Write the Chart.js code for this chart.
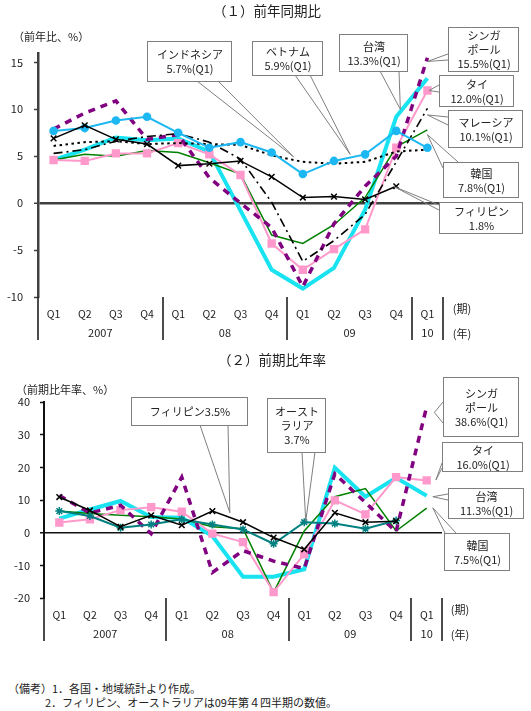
<!DOCTYPE html>
<html lang="ja">
<head>
<meta charset="utf-8">
<script src="https://cdn.jsdelivr.net/npm/chart.js@4.4.1/dist/chart.umd.min.js"></script>
<style>
  html, body { margin: 0; padding: 0; background: #fff; }
  #wrap { position: relative; width: 531px; height: 711px; font-family: "Noto Sans CJK JP", sans-serif; }
  #c1 { position: absolute; left: 0; top: 0; }
  #c2 { position: absolute; left: 0; top: 345px; }
  .note { position: absolute; font-size: 11px; color: #222; white-space: nowrap; line-height: 14px; }
</style>
</head>
<body>
<div id="wrap">
  <canvas id="c1" width="531" height="345"></canvas>
  <canvas id="c2" width="531" height="300"></canvas>
  <div class="note" style="left:8px; top:681px;">（備考）1．各国・地域統計より作成。</div>
  <div class="note" style="left:45px; top:695px;">2．フィリピン、オーストラリアは09年第４四半期の数値。</div>
</div>
<script>
// 横軸
const quarters = ['Q1', 'Q2', 'Q3', 'Q4', 'Q1', 'Q2', 'Q3', 'Q4', 'Q1', 'Q2', 'Q3', 'Q4', 'Q1'];
const yearLabels = ['2007', '08', '09', '10'];
const yearSpans = [4, 4, 4, 1];

// (1) 前年同期比
const philippinesYoY = [6.9, 8.3, 6.8, 6.3, 4.0, 4.2, 4.5, 2.8, 0.6, 0.7, 0.4, 1.8, null];
const vietnamYoY     = [7.7, 8.0, 8.8, 9.2, 7.5, 5.9, 6.5, 5.4, 3.1, 4.5, 5.2, 7.7, 5.9];
const indonesiaYoY   = [6.1, 6.5, 6.6, 6.3, 6.4, 6.3, 6.2, 5.1, 4.4, 4.2, 4.4, 5.5, 5.7];
const malaysiaYoY    = [5.3, 5.7, 6.6, 7.1, 7.4, 6.5, 4.7, 0.1, -6.2, -4.0, -1.2, 4.4, 10.1];
const singaporeYoY   = [7.9, 9.6, 10.9, 6.8, 7.3, 2.7, 0.0, -2.6, -8.9, -2.2, 1.8, 5.0, 15.5];
const thaiYoY        = [4.6, 4.5, 5.3, 5.3, 6.4, 5.2, 3.0, -4.3, -7.1, -4.9, -2.8, 5.9, 12.0];
const koreaYoY       = [4.6, 5.2, 5.0, 5.6, 5.4, 4.3, 3.1, -3.4, -4.3, -2.3, 0.6, 6.0, 7.8];
const taiwanYoY      = [4.6, 5.7, 7.0, 6.7, 6.9, 5.5, -0.8, -7.1, -9.1, -6.9, -0.7, 9.2, 13.3];

// (2) 前期比年率
const philippinesSaar = [10.9, 6.8, 1.8, 5.3, 2.3, 6.6, 3.2, -1.5, -5.1, 6.1, 3.2, 3.5, null];
const australiaSaar   = [6.6, 5.1, 1.5, 2.5, 4.1, 2.5, 1.0, -3.4, 3.2, 2.8, 1.2, 3.7, null];
const singaporeSaar   = [11.4, 6.0, 8.4, -0.3, 17.0, -12.2, -5.5, -8.7, -11.0, 18.0, 9.2, 0.3, 38.6];
const thaiSaar        = [3.1, 4.1, 6.9, 7.8, 6.4, -0.3, -2.9, -18.2, -6.6, 9.9, 5.6, 17.0, 16.0];
const koreaSaar       = [6.6, 5.9, 5.3, 4.9, 4.2, 1.8, 1.2, -18.3, 0.5, 11.0, 13.5, 0.5, 7.5];
const taiwanSaar      = [4.3, 7.1, 9.7, 4.8, 4.6, -1.0, -13.5, -13.5, -11.2, 19.9, 11.0, 16.8, 11.3];

const FONT = '"Noto Sans CJK JP", sans-serif';
Chart.defaults.font.family = FONT;
Chart.defaults.font.size = 11;
Chart.defaults.color = '#222';

// 吹き出し（位置はキャンバス座標、先端はデータ座標）
const calloutsYoY = [
  { text: ['インドネシア', '5.7%(Q1)'], box: [147, 41, 84, 40], base: [[197, 81], [218, 81]], tip: [7.7, 4.95] },
  { text: ['ベトナム', '5.9%(Q1)'], box: [252, 41, 70, 34], base: [[295, 75], [310, 75]], tip: [9.52, 5.2] },
  { text: ['台湾', '13.3%(Q1)'], box: [339, 34, 68, 37], base: [[380, 71], [399, 71]], tip: [11.13, 10.0] },
  { text: ['シンガ', 'ポール', '15.5%(Q1)'], box: [448, 27, 70, 44], base: [[448, 54], [448, 60]], tip: [12, 15.1] },
  { text: ['タイ', '12.0%(Q1)'], box: [439, 75, 74, 31], base: [[439, 85], [439, 92]], tip: [12.05, 12.0] },
  { text: ['マレーシア', '10.1%(Q1)'], box: [448, 110, 74, 37], base: [[448, 117], [448, 125]], tip: [12, 9.4] },
  { text: ['韓国', '7.8%(Q1)'], box: [443, 162, 75, 35], base: [[443, 168], [458, 162]], tip: [12, 7.3] },
  { text: ['フィリピン', '1.8%'], box: [439, 202, 83, 31], base: [[439, 205], [439, 210]], tip: [10.9, 1.8] },
];
const calloutsSaar = [
  { text: ['フィリピン3.5%'], box: [131, 52, 116, 28], base: [[200, 80], [228, 80]], tip: [5.57, 6.1] },
  { text: ['オースト', 'ラリア', '3.7%'], box: [267, 53, 58, 54], base: [[302, 107], [315, 107]], tip: [8.05, 3.5] },
  { text: ['シンガ', 'ポール', '38.6%(Q1)'], box: [443, 32, 75, 59], base: [[443, 57], [443, 78]], tip: [12.25, 36.8] },
  { text: ['タイ', '16.0%(Q1)'], box: [442, 97, 80, 29], base: [[442, 118], [442, 123]], tip: [12.3, 16.1] },
  { text: ['台湾', '11.3%(Q1)'], box: [448, 143, 75, 30], base: [[448, 149], [448, 155]], tip: [12.2, 11.0] },
  { text: ['韓国', '7.5%(Q1)'], box: [444, 188, 65, 37], base: [[445, 188], [456, 188]], tip: [12.2, 7.6] },
];

const decoPlugin = {
  id: 'deco',
  afterDraw(chart, args, opts) {
    const ctx = chart.ctx;
    const xs = chart.scales.x, ys = chart.scales.y;
    const area = chart.chartArea;
    ctx.save();

    // 年の区切り線
    ctx.strokeStyle = opts.axisColor;
    ctx.lineWidth = 1.5;
    let pos = 0;
    const bounds = [-0.5];
    yearSpans.forEach(n => { pos += n; bounds.push(pos - 0.5); });
    bounds.forEach(b => {
      const px = Math.round(xs.getPixelForValue(b));
      ctx.beginPath();
      ctx.moveTo(px, area.bottom);
      ctx.lineTo(px, area.bottom + 43);
      ctx.stroke();
    });

    // 年ラベル
    ctx.fillStyle = '#222';
    ctx.font = '11px ' + FONT;
    ctx.textAlign = 'center';
    ctx.textBaseline = 'middle';
    pos = 0;
    yearLabels.forEach((lab, k) => {
      const mid = pos + (yearSpans[k] - 1) / 2;
      ctx.fillText(lab, xs.getPixelForValue(mid), area.bottom + 36);
      pos += yearSpans[k];
    });
    ctx.fillText('(期)', opts.unitX, area.bottom + 12);
    ctx.fillText('(年)', opts.unitX, area.bottom + 37);

    // タイトル・単位
    ctx.font = '13.5px ' + FONT;
    ctx.fillText(opts.title, opts.titleX, opts.titleY);
    ctx.font = '11px ' + FONT;
    ctx.textAlign = 'left';
    ctx.fillText(opts.unit, opts.unitLeft, opts.unitY);

    // 吹き出し
    opts.callouts.forEach(c => {
      const tx = xs.getPixelForValue(c.tip[0]);
      const ty = ys.getPixelForValue(c.tip[1]);
      ctx.strokeStyle = '#7f7f7f';
      ctx.lineWidth = 1;
      ctx.beginPath();
      ctx.moveTo(c.base[0][0], c.base[0][1]);
      ctx.lineTo(tx, ty);
      ctx.lineTo(c.base[1][0], c.base[1][1]);
      ctx.stroke();
      const [bx, by, bw, bh] = c.box;
      ctx.fillStyle = '#fff';
      ctx.fillRect(bx, by, bw, bh);
      ctx.strokeRect(bx + 0.5, by + 0.5, bw, bh);
      ctx.fillStyle = '#222';
      ctx.textAlign = 'center';
      const lh = 14;
      const cy = by + bh / 2 - (c.text.length - 1) * lh / 2;
      c.text.forEach((t, k) => ctx.fillText(t, bx + bw / 2 + 1, cy + k * lh + 1));
    });
    ctx.restore();
  }
};

function lineSet(label, data, color, extra) {
  return Object.assign({
    label: label,
    data: data,
    borderColor: color,
    backgroundColor: color,
    borderWidth: 1.5,
    pointRadius: 0,
    tension: 0,
    fill: false,
  }, extra || {});
}

function makeChart(id, datasets, cfg) {
  return new Chart(document.getElementById(id), {
    type: 'line',
    data: { labels: quarters, datasets: datasets },
    options: {
      responsive: false,
      animation: false,
      events: [],
      layout: { padding: { top: cfg.top, right: cfg.right, left: 0, bottom: 0 } },
      plugins: {
        legend: { display: false },
        tooltip: { enabled: false },
        deco: cfg.deco,
      },
      scales: {
        x: {
          offset: true,
          grid: { display: false, drawTicks: false },
          border: { display: false },
          ticks: { padding: 11, maxRotation: 0, autoSkip: false, font: { size: 10.5 } },
          afterFit: s => { s.height = cfg.xHeight; },
        },
        y: {
          min: cfg.min,
          max: cfg.max,
          ticks: { stepSize: cfg.step, padding: cfg.tickPad, font: { size: 11 } },
          afterBuildTicks: s => {
            const list = [];
            for (let v = Math.ceil(cfg.min / cfg.step) * cfg.step; v <= cfg.max; v += cfg.step) list.push({ value: v });
            s.ticks = list;
          },
          afterFit: s => { s.width = cfg.yWidth; },
          border: { color: cfg.axisColor, width: cfg.axisWidth },
          grid: {
            color: c => (c.tick && c.tick.value === 0) ? cfg.axisColor : 'rgba(0,0,0,0)',
            lineWidth: c => (c.tick && c.tick.value === 0) ? cfg.zeroWidth : 1,
            tickColor: cfg.axisColor,
            tickLength: 4,
            tickWidth: 1.5,
          },
        },
      },
    },
    plugins: [decoPlugin],
  });
}

// (1) 前年同期比
makeChart('c1', [
  lineSet('フィリピン', philippinesYoY, '#000', { pointStyle: 'crossRot', pointRadius: 4, pointBorderWidth: 1.5 }),
  lineSet('ベトナム', vietnamYoY, '#1db8f2', { borderWidth: 2, pointStyle: 'circle', pointRadius: 3.3 }),
  lineSet('インドネシア', indonesiaYoY, '#000', { borderWidth: 2, borderDash: [2.5, 3.5] }),
  lineSet('マレーシア', malaysiaYoY, '#000', { borderWidth: 1.6, borderDash: [9, 4, 2, 4] }),
  lineSet('シンガポール', singaporeYoY, '#800080', { borderWidth: 3.5, borderDash: [7, 6] }),
  lineSet('タイ', thaiYoY, '#ff99cc', { borderWidth: 2, pointStyle: 'rect', pointRadius: 4.5 }),
  lineSet('韓国', koreaYoY, '#008000', { borderWidth: 1.5 }),
  lineSet('台湾', taiwanYoY, '#19e3f0', { borderWidth: 4 }),
], {
  top: 53, right: 88, xHeight: 48, yWidth: 38, tickPad: 11,
  min: -10, max: 16, step: 5,
  axisColor: '#404040', axisWidth: 2.5, zeroWidth: 2.5,
  deco: {
    axisColor: '#111', unitX: 462,
    title: '（１）前年同期比', titleX: 267, titleY: 11,
    unit: '（前年比、%）', unitLeft: 13, unitY: 37,
    callouts: calloutsYoY,
  },
});

// (2) 前期比年率
makeChart('c2', [
  lineSet('フィリピン', philippinesSaar, '#000', { pointStyle: 'crossRot', pointRadius: 4, pointBorderWidth: 1.5 }),
  lineSet('オーストラリア', australiaSaar, '#008080', { borderWidth: 2, pointStyle: 'star', pointRadius: 4, pointBorderWidth: 1.5 }),
  lineSet('シンガポール', singaporeSaar, '#800080', { borderWidth: 3.5, borderDash: [7, 6] }),
  lineSet('タイ', thaiSaar, '#ff99cc', { borderWidth: 2, pointStyle: 'rect', pointRadius: 4.5 }),
  lineSet('韓国', koreaSaar, '#008000', { borderWidth: 1.5 }),
  lineSet('台湾', taiwanSaar, '#19e3f0', { borderWidth: 4 }),
], {
  top: 57, right: 89, xHeight: 47, yWidth: 44, tickPad: 10,
  min: -20, max: 40, step: 10,
  axisColor: '#111', axisWidth: 2, zeroWidth: 1.5,
  deco: {
    axisColor: '#111', unitX: 460,
    title: '（２）前期比年率', titleX: 272, titleY: 15,
    unit: '（前期比年率、%）', unitLeft: 16, unitY: 45,
    callouts: calloutsSaar,
  },
});
</script>
</body>
</html>
